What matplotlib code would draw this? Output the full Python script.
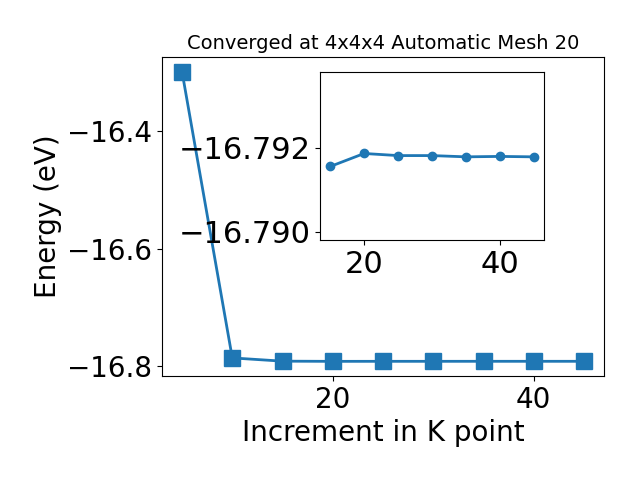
import matplotlib
matplotlib.use("Agg")
import matplotlib.pyplot as plt

kpoints = [5, 10, 15, 20, 25, 30, 35, 40, 45]
energy = [-16.298, -16.786, -16.79155, -16.79186, -16.79181, -16.79181, -16.79178, -16.79179, -16.79178]
inset_k = kpoints[2:]
inset_e = energy[2:]

fig = plt.figure(figsize=(6.4, 4.8), dpi=100)
ax = fig.add_axes([0.253, 0.217, 0.691, 0.664])
ax.plot(kpoints, energy, marker='s', markersize=12, linewidth=2, color='#1f77b4')
ax.set_xlabel('Increment in K point', fontsize=20)
ax.set_ylabel('Energy (eV)', fontsize=20)
ax.set_title('Converged at 4x4x4 Automatic Mesh 20', fontsize=14)
ax.tick_params(labelsize=20)
ax.set_yticks([-16.4, -16.6, -16.8])
ax.set_xticks([20, 40])

ins = fig.add_axes([0.5, 0.5, 0.35, 0.35])
ins.plot(inset_k, inset_e, marker='o', markersize=6, linewidth=2, color='#1f77b4')
ins.set_ylim(-16.7898, -16.7938)
ins.set_yticks([-16.792, -16.790])
ins.set_xticks([20, 40])
ins.tick_params(labelsize=22)

fig.savefig('out.png', dpi=100)
